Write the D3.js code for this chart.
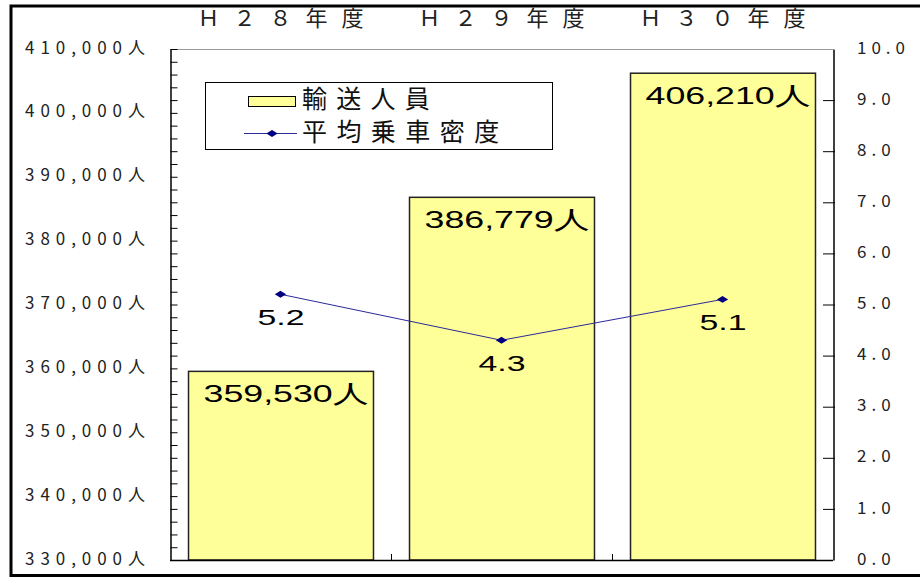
<!DOCTYPE html>
<html>
<head>
<meta charset="utf-8">
<script src="https://cdn.jsdelivr.net/npm/d3@7"></script>
<style>
  body { margin: 0; background: #fff; }
  svg { display: block; }
  .tick-label { font-family: "Noto Sans CJK JP", sans-serif; font-size: 17px; fill: #222; }
  .cat-label { font-family: "Noto Sans CJK JP", sans-serif; font-size: 22px; fill: #222; }
  .val-label { font-family: "Liberation Sans", Arial, sans-serif; font-size: 24px; fill: #000; }
  .legend-label { font-family: "Noto Sans CJK JP", sans-serif; font-size: 25px; fill: #111; }
</style>
</head>
<body>
<svg id="chart" width="920" height="578"></svg>
<script>
// Data
let categories = ["Ｈ２８年度", "Ｈ２９年度", "Ｈ３０年度"];
let passengers = [359530, 386779, 406210];   // 輸送人員
let density = [5.2, 4.3, 5.1];               // 平均乗車密度
let leftTicks = [330000, 340000, 350000, 360000, 370000, 380000, 390000, 400000, 410000];
let rightTicks = [0, 1, 2, 3, 4, 5, 6, 7, 8, 9, 10];
let legendNames = ["輸送人員", "平均乗車密度"];

let svg = d3.select("#chart");

let plotLeft = 170, plotRight = 833, plotTop = 49, plotBottom = 560;

// Outer frame
svg.append("rect")
    .attr("x", 11).attr("y", 6)
    .attr("width", 920).attr("height", 569.5)
    .style("fill", "none")
    .style("stroke", "#000")
    .style("stroke-width", 3);

let x = d3.scaleBand()
    .domain(categories)
    .range([plotLeft, plotRight])
    .paddingInner(0.163)
    .paddingOuter(0.0815);

let xOuter = d3.scaleBand().domain(categories).range([plotLeft, plotRight]);
let xMid = function(c) { return xOuter(c) + xOuter.bandwidth() / 2; };

let yL = d3.scaleLinear().domain([330000, 410000]).range([plotBottom, plotTop]);
let yR = d3.scaleLinear().domain([0, 10]).range([plotBottom, plotTop]);

// Flat diamond marker, wider than tall
let flatDiamond = {
    draw: function(context, size) {
        let w = Math.sqrt(size) * 0.9, h = w * 0.6;
        context.moveTo(-w, 0);
        context.lineTo(0, -h);
        context.lineTo(w, 0);
        context.lineTo(0, h);
        context.closePath();
    }
};
let diamond = d3.symbol().type(flatDiamond).size(40);

// top border of plot
svg.append("line")
    .attr("x1", plotLeft).attr("x2", plotRight)
    .attr("y1", plotTop + 0.5).attr("y2", plotTop + 0.5)
    .style("stroke", "#999").style("stroke-width", 1);

// Bars
svg.selectAll(".bar")
    .data(passengers)
    .enter().append("rect")
    .attr("class", "bar")
    .attr("x", function(d, i) { return x(categories[i]) + 0.5; })
    .attr("y", function(d) { return yL(d); })
    .attr("width", x.bandwidth())
    .attr("height", function(d) { return plotBottom - yL(d); })
    .style("fill", "#ffff99")
    .style("stroke", "#222")
    .style("stroke-width", 1.5);

// Bar labels
svg.selectAll(".barlabel")
    .data(passengers)
    .enter().append("text")
    .attr("class", "val-label")
    .attr("x", function(d, i) { return xMid(categories[i]) - 77; })
    .attr("y", function(d) { return yL(d) + 31; })
    .attr("textLength", 165)
    .attr("lengthAdjust", "spacingAndGlyphs")
    .text(function(d) { return d3.format(",")(d) + "人"; });

// Left axis
let leftAxis = d3.axisLeft(yL)
    .tickValues(d3.range(330000, 410001, 2000))
    .tickSizeInner(-7).tickSizeOuter(0)
    .tickFormat("");
let gl = svg.append("g")
    .attr("transform", "translate(" + (plotLeft + 0.5) + ",0)")
    .call(leftAxis);
gl.select(".domain").style("stroke", "#000").style("stroke-width", 1.5);
gl.selectAll(".tick line").style("stroke", "#000");

svg.selectAll(".llabel")
    .data(leftTicks)
    .enter().append("text")
    .attr("class", "tick-label")
    .attr("x", 25)
    .attr("y", function(d) { return yL(d); })
    .attr("dominant-baseline", "middle")
    .attr("textLength", 120)
    .attr("lengthAdjust", "spacing")
    .text(function(d) { return d3.format(",")(d) + "人"; });

// Right axis
let rightAxis = d3.axisRight(yR)
    .tickValues(rightTicks)
    .tickSizeInner(0).tickSizeOuter(0)
    .tickFormat("");
let gr = svg.append("g")
    .attr("transform", "translate(" + (plotRight + 0.5) + ",0)")
    .call(rightAxis);
gr.select(".domain").style("stroke", "#000").style("stroke-width", 1.5);

svg.selectAll(".rtick")
    .data(rightTicks.slice(1, -1))
    .enter().append("line")
    .attr("x1", plotRight - 10).attr("x2", plotRight + 2)
    .attr("y1", function(d) { return yR(d) + 0.5; })
    .attr("y2", function(d) { return yR(d) + 0.5; })
    .style("stroke", "#000");

svg.selectAll(".rlabel")
    .data(rightTicks)
    .enter().append("text")
    .attr("class", "tick-label")
    .attr("x", 857)
    .attr("y", function(d) { return yR(d); })
    .attr("dominant-baseline", "middle")
    .style("letter-spacing", "5px")
    .text(function(d) { return d3.format(".1f")(d); });

// Bottom axis
svg.append("line")
    .attr("x1", plotLeft).attr("x2", plotRight)
    .attr("y1", plotBottom + 0.5).attr("y2", plotBottom + 0.5)
    .style("stroke", "#000").style("stroke-width", 1.5);

svg.selectAll(".xtick")
    .data(categories.slice(1))
    .enter().append("line")
    .attr("x1", function(d) { return xOuter(d) + 0.5; })
    .attr("x2", function(d) { return xOuter(d) + 0.5; })
    .attr("y1", plotBottom - 6).attr("y2", plotBottom)
    .style("stroke", "#000");

// Category labels at top
svg.selectAll(".catlabel")
    .data(categories)
    .enter().append("text")
    .attr("class", "cat-label")
    .attr("x", function(d) { return xMid(d) - 83; })
    .attr("y", 20)
    .attr("dominant-baseline", "middle")
    .attr("textLength", 166)
    .attr("lengthAdjust", "spacing")
    .text(function(d) { return d; });

// Density line
let line = d3.line()
    .x(function(d, i) { return xMid(categories[i]); })
    .y(function(d) { return yR(d); });

svg.append("path")
    .datum(density)
    .attr("d", line)
    .style("fill", "none")
    .style("stroke", "#2a2a9a")
    .style("stroke-width", 1);

svg.selectAll(".marker")
    .data(density)
    .enter().append("path")
    .attr("d", diamond)
    .attr("transform", function(d, i) {
        return "translate(" + xMid(categories[i]) + "," + yR(d) + ")";
    })
    .style("fill", "#000080");

svg.selectAll(".dlabel")
    .data(density)
    .enter().append("text")
    .attr("class", "val-label")
    .attr("x", function(d, i) { return xMid(categories[i]) - 23; })
    .attr("y", function(d) { return yR(d) + 31; })
    .attr("textLength", 47)
    .attr("lengthAdjust", "spacingAndGlyphs")
    .style("font-size", "22px")
    .text(function(d) { return d3.format(".1f")(d); });

// Legend
let lg = svg.append("g").attr("transform", "translate(205,82)");
lg.append("rect")
    .attr("x", 0.5).attr("y", 0.5)
    .attr("width", 347).attr("height", 67)
    .style("fill", "#fff")
    .style("stroke", "#000");

lg.append("rect")
    .attr("x", 43.5).attr("y", 14.5)
    .attr("width", 47).attr("height", 10)
    .style("fill", "#ffff99")
    .style("stroke", "#000");

lg.append("line")
    .attr("x1", 39).attr("x2", 92)
    .attr("y1", 51.5).attr("y2", 51.5)
    .style("stroke", "#2a2a9a");
lg.append("path")
    .attr("d", diamond)
    .attr("transform", "translate(67,51.5)")
    .style("fill", "#000080");

lg.selectAll(".legend-label")
    .data(legendNames)
    .enter().append("text")
    .attr("class", "legend-label")
    .attr("x", 97)
    .attr("y", function(d, i) { return 19 + i * 33; })
    .attr("dominant-baseline", "middle")
    .attr("textLength", function(d) { return d.length * 34.7 - 11; })
    .attr("lengthAdjust", "spacing")
    .text(function(d) { return d; });
</script>
</body>
</html>
